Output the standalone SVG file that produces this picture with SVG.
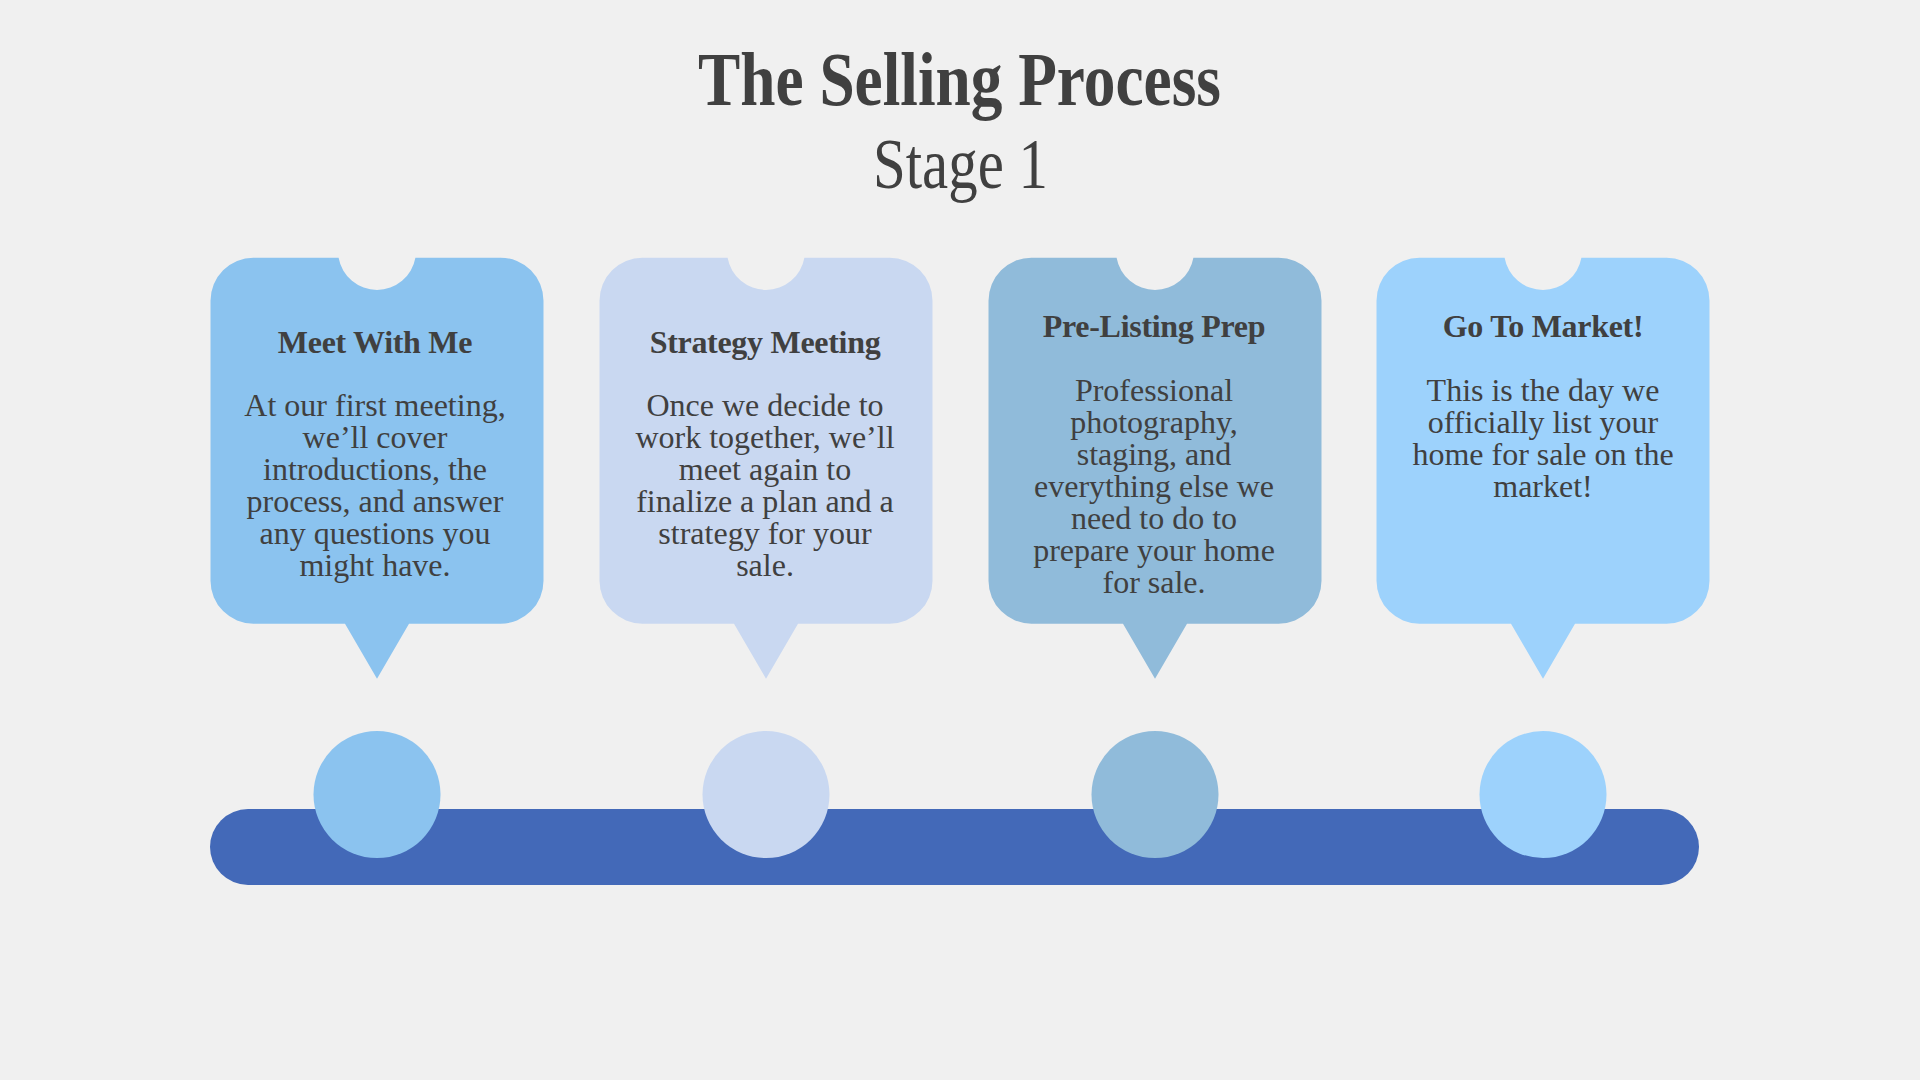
<svg xmlns="http://www.w3.org/2000/svg" width="1920" height="1080" viewBox="0 0 1920 1080">
<defs>
<style>
.title{font-family:"Liberation Serif",serif;font-weight:bold;fill:#404040}
.sub{font-family:"Liberation Serif",serif;fill:#404040}
.h{font-family:"Liberation Serif",serif;font-weight:bold;font-size:32px;fill:#404040;text-anchor:middle;letter-spacing:-0.3px}
.b{font-family:"Liberation Serif",serif;font-size:32px;fill:#404040;text-anchor:middle}
</style>
<path id="card" d="M -38.4 0 A 39 39 0 0 0 38.4 0 L 123.5 0 A 43 43 0 0 1 166.5 43 L 166.5 323 A 43 43 0 0 1 123.5 366 L 32 366 L 0 421 L -32 366 L -123.5 366 A 43 43 0 0 1 -166.5 323 L -166.5 43 A 43 43 0 0 1 -123.5 0 Z"/>
</defs>
<rect width="1920" height="1080" fill="#F0F0F0"/>
<g id="heading">
<text class="title" x="959.5" y="105" font-size="76" text-anchor="middle" textLength="523" lengthAdjust="spacingAndGlyphs">The Selling Process</text>
<text class="sub" x="960.5" y="187.5" font-size="71" text-anchor="middle" textLength="175" lengthAdjust="spacingAndGlyphs">Stage 1</text>
</g>
<g id="connectors">
<rect x="210" y="809" width="1489" height="76" rx="38" fill="#4369B8"/>
</g>
<g id="step1">
<use href="#card" transform="translate(377,257.7)" fill="#8BC3EF"/>
<circle cx="377" cy="794.5" r="63.5" fill="#8BC3EF"/>
<text class="h" x="375" y="352.5">Meet With Me</text>
<text class="b" x="375" y="416">At our first meeting,</text>
<text class="b" x="375" y="448">we’ll cover</text>
<text class="b" x="375" y="480">introductions, the</text>
<text class="b" x="375" y="512">process, and answer</text>
<text class="b" x="375" y="544">any questions you</text>
<text class="b" x="375" y="576">might have.</text>
</g>
<g id="step2">
<use href="#card" transform="translate(766,257.7)" fill="#C9D8F1"/>
<circle cx="766" cy="794.5" r="63.5" fill="#C9D8F1"/>
<text class="h" x="765" y="352.5">Strategy Meeting</text>
<text class="b" x="765" y="416">Once we decide to</text>
<text class="b" x="765" y="448">work together, we’ll</text>
<text class="b" x="765" y="480">meet again to</text>
<text class="b" x="765" y="512">finalize a plan and a</text>
<text class="b" x="765" y="544">strategy for your</text>
<text class="b" x="765" y="576">sale.</text>
</g>
<g id="step3">
<use href="#card" transform="translate(1155,257.7)" fill="#90BBDA"/>
<circle cx="1155" cy="794.5" r="63.5" fill="#90BBDA"/>
<text class="h" x="1154" y="337">Pre-Listing Prep</text>
<text class="b" x="1154" y="401">Professional</text>
<text class="b" x="1154" y="433">photography,</text>
<text class="b" x="1154" y="465">staging, and</text>
<text class="b" x="1154" y="497">everything else we</text>
<text class="b" x="1154" y="529">need to do to</text>
<text class="b" x="1154" y="561">prepare your home</text>
<text class="b" x="1154" y="593">for sale.</text>
</g>
<g id="step4">
<use href="#card" transform="translate(1543,257.7)" fill="#9DD2FC"/>
<circle cx="1543" cy="794.5" r="63.5" fill="#9DD2FC"/>
<text class="h" x="1543" y="337">Go To Market!</text>
<text class="b" x="1543" y="401">This is the day we</text>
<text class="b" x="1543" y="433">officially list your</text>
<text class="b" x="1543" y="465">home for sale on the</text>
<text class="b" x="1543" y="497">market!</text>
</g>
</svg>
